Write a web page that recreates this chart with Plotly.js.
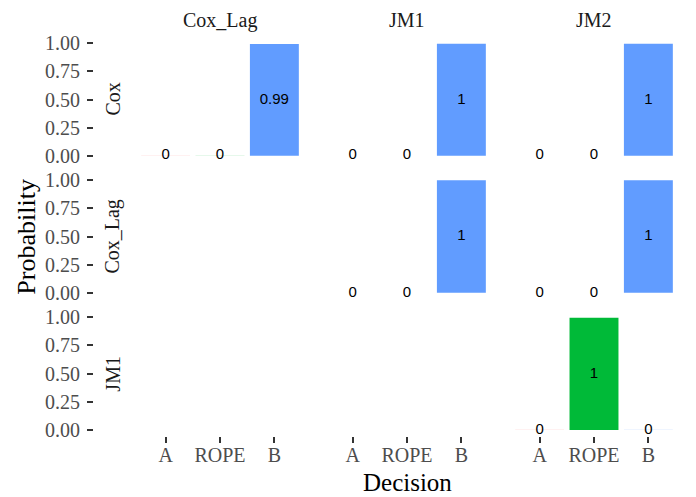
<!DOCTYPE html>
<html>
<head>
<meta charset="utf-8">
<script src="https://cdn.plot.ly/plotly-3.0.1.min.js"></script>
<style>html,body{margin:0;padding:0;background:#fff;}#chart{width:696px;height:497px;}</style>
</head>
<body>
<div id="chart"></div>
<script>
// ---- data ----
var rowModels = ['Cox', 'Cox_Lag', 'JM1'];
var colModels = ['Cox_Lag', 'JM1', 'JM2'];
var decisions = ['A', 'ROPE', 'B'];
var decisionColors = ['#F8766D', '#00BA38', '#619CFF'];

// probabilities [A, ROPE, B] for each (row, column) panel
var coxVsCoxLag   = [0.003, 0.004, 0.993];
var coxVsJM1      = [0.002, 0.002, 0.996];
var coxVsJM2      = [0.002, 0.002, 0.996];
var coxLagVsJM1   = [0, 0, 1];
var coxLagVsJM2   = [0, 0, 1];
var jm1VsJM2      = [0.002, 0.996, 0.002];

var panels = [
  {row: 0, col: 0, probs: coxVsCoxLag},
  {row: 0, col: 1, probs: coxVsJM1},
  {row: 0, col: 2, probs: coxVsJM2},
  {row: 1, col: 1, probs: coxLagVsJM1},
  {row: 1, col: 2, probs: coxLagVsJM2},
  {row: 2, col: 2, probs: jm1VsJM2}
];

var yTickVals = [0, 0.25, 0.5, 0.75, 1];
var yTickText = ['0.00', '0.25', '0.50', '0.75', '1.00'];

// ---- layout geometry (pixels) ----
var W = 696, H = 497;
var colPx = [[133, 307], [320, 494], [507, 681]];
var rowPx = [[37.7, 161.5], [174.7, 298.5], [311.7, 435.6]];
function px2x(p){ return p / W; }
function px2y(p){ return 1 - p / H; }

var serif = 'Liberation Serif, Times New Roman, serif';
var traces = [];
panels.forEach(function(p){
  var xa = 'x' + (p.col === 0 ? '' : (p.col + 1));
  var ya = 'y' + (p.row === 0 ? '' : (p.row + 1));
  traces.push({
    type: 'bar', x: decisions, y: p.probs, width: 0.9,
    marker: {
      color: decisionColors,
      opacity: p.probs.map(function(v){ return v < 0.02 ? 0.4 : 1; }),
      line: {width: 0}
    },
    xaxis: xa, yaxis: ya, hoverinfo: 'skip'
  });
  traces.push({
    type: 'scatter', mode: 'text', x: decisions,
    y: p.probs.map(function(v){ return v / 2; }),
    text: p.probs.map(function(v){ return String(Math.round(v * 100) / 100); }),
    textposition: 'middle center',
    textfont: {family: 'Liberation Sans, Arial, sans-serif', size: 15, color: '#000'},
    cliponaxis: false, xaxis: xa, yaxis: ya, hoverinfo: 'skip'
  });
});

var layout = {
  width: W, height: H,
  margin: {l: 0, r: 0, t: 0, b: 0},
  paper_bgcolor: '#fff', plot_bgcolor: '#fff',
  showlegend: false,
  font: {family: serif, color: '#000'},
  annotations: []
};

colModels.forEach(function(c, i){
  var key = 'xaxis' + (i === 0 ? '' : (i + 1));
  layout[key] = {
    domain: [px2x(colPx[i][0]), px2x(colPx[i][1])],
    type: 'category', categoryorder: 'array', categoryarray: decisions,
    range: [-0.6, 2.6], anchor: 'y3',
    showgrid: false, zeroline: false, showline: false,
    ticks: 'outside', ticklen: 6, tickwidth: 2, tickcolor: '#333',
    tickfont: {family: serif, size: 20, color: '#4d4d4d'},
    ticklabelstandoff: -5
  };
  layout.annotations.push({
    text: c, xref: 'paper', yref: 'paper',
    x: px2x((colPx[i][0] + colPx[i][1]) / 2), y: px2y(20),
    xanchor: 'center', yanchor: 'middle', showarrow: false,
    font: {family: serif, size: 20, color: '#1a1a1a'}
  });
});

rowModels.forEach(function(r, i){
  var key = 'yaxis' + (i === 0 ? '' : (i + 1));
  layout[key] = {
    domain: [px2y(rowPx[i][1]), px2y(rowPx[i][0])],
    range: [-0.05, 1.05], anchor: 'free', position: px2x(93),
    tickvals: yTickVals, ticktext: yTickText,
    showgrid: false, zeroline: false, showline: false,
    ticks: 'outside', ticklen: 6, tickwidth: 2, tickcolor: '#333',
    tickfont: {family: serif, size: 20, color: '#4d4d4d'},
    ticklabelstandoff: 3
  };
  layout.annotations.push({
    text: r, xref: 'paper', yref: 'paper',
    x: px2x(113), y: px2y((rowPx[i][0] + rowPx[i][1]) / 2),
    xanchor: 'center', yanchor: 'middle', textangle: -90, showarrow: false,
    font: {family: serif, size: 20, color: '#1a1a1a'}
  });
});

layout.annotations.push({
  text: 'Probability', xref: 'paper', yref: 'paper',
  x: px2x(27), y: px2y((rowPx[0][0] + rowPx[2][1]) / 2),
  xanchor: 'center', yanchor: 'middle', textangle: -90, showarrow: false,
  font: {family: serif, size: 26, color: '#000'}
});
layout.annotations.push({
  text: 'Decision', xref: 'paper', yref: 'paper',
  x: px2x((colPx[0][0] + colPx[2][1]) / 2), y: px2y(482),
  xanchor: 'center', yanchor: 'middle', showarrow: false,
  font: {family: serif, size: 25, color: '#000'}
});

Plotly.newPlot('chart', traces, layout, {staticPlot: true, displayModeBar: false});
</script>
</body>
</html>
